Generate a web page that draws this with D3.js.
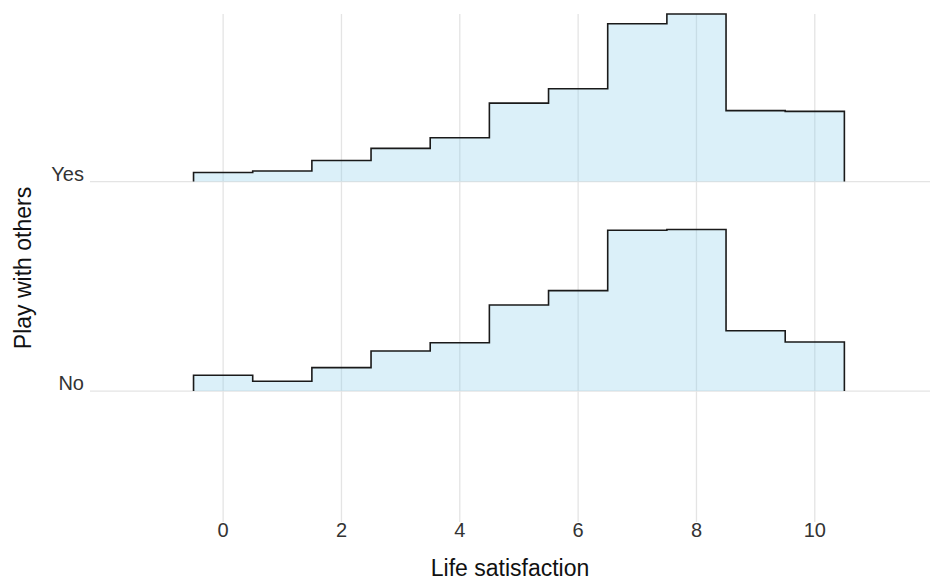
<!DOCTYPE html>
<html>
<head>
<meta charset="utf-8">
<script src="https://cdn.jsdelivr.net/npm/d3@7"></script>
<style>
  html, body { margin: 0; padding: 0; background: #fff; }
  svg { display: block; font-family: "Liberation Sans", Arial, Helvetica, sans-serif; }
</style>
</head>
<body>
<svg id="chart" width="930" height="582"></svg>
<script>
// Life satisfaction scores (bin centres) and share of respondents per score, in %
const scores = [0, 1, 2, 3, 4, 5, 6, 7, 8, 9, 10];
const groups = ["No", "Yes"];
const densityNo  = [2.1, 1.3, 3.1, 5.3, 6.4, 11.4, 13.3, 21.3, 21.4, 8.0, 6.5];
const densityYes = [1.2, 1.4, 2.8, 4.4, 5.8, 10.4, 12.3, 20.9, 22.2, 9.4, 9.3];
const xTicks = [0, 2, 4, 6, 8, 10];
const binWidth = 1;
const ridgeScale = 0.8;   // tallest bin reaches 0.8 of the row spacing

const series = [
  { group: "No",  values: densityNo },
  { group: "Yes", values: densityYes }
];

const panel = { left: 90, right: 942, top: 14, bottom: 522 };

const svg = d3.select("#chart");

const x = d3.scaleLinear().domain([-2.25, 12.15]).range([panel.left, panel.right]);
// continuous position of each ridge: No = 1, Yes = 2
const yPos = d3.scaleLinear().domain([0.375, 2.8]).range([panel.bottom, panel.top]);
const rowIndex = g => groups.indexOf(g) + 1;
const maxDensity = d3.max(series, s => d3.max(s.values));
const h = d3.scaleLinear().domain([0, maxDensity]).range([0, ridgeScale]);

const gridColor = "#e4e4e4";

// vertical grid lines
svg.append("g").selectAll("line").data(xTicks).join("line")
  .attr("x1", d => x(d)).attr("x2", d => x(d))
  .attr("y1", panel.top).attr("y2", panel.bottom)
  .attr("stroke", gridColor).attr("stroke-width", 1.3);

// horizontal grid lines at each ridge baseline
svg.append("g").selectAll("line").data(groups).join("line")
  .attr("x1", panel.left).attr("x2", panel.right)
  .attr("y1", d => yPos(rowIndex(d))).attr("y2", d => yPos(rowIndex(d)))
  .attr("stroke", gridColor).attr("stroke-width", 1.3);

// step outline for one histogram ridge
function stepPoints(s) {
  const base = rowIndex(s.group);
  const pts = [[scores[0] - binWidth / 2, base]];
  s.values.forEach((v, i) => {
    pts.push([scores[i] - binWidth / 2, base + h(v)]);
    pts.push([scores[i] + binWidth / 2, base + h(v)]);
  });
  pts.push([scores[scores.length - 1] + binWidth / 2, base]);
  return pts;
}

const line = d3.line().x(d => x(d[0])).y(d => yPos(d[1]));

// draw upper ridge first so lower ones sit on top
const ordered = series.slice().sort((a, b) => rowIndex(b.group) - rowIndex(a.group));
const ridges = svg.append("g").selectAll("g").data(ordered).join("g");
ridges.append("path")
  .attr("d", d => line(stepPoints(d)) + "Z")
  .attr("fill", "#87ceeb").attr("fill-opacity", 0.3).attr("stroke", "none");
ridges.append("path")
  .attr("d", d => line(stepPoints(d)))
  .attr("fill", "none").attr("stroke", "#1a1a1a").attr("stroke-width", 1.6)
  .attr("stroke-linejoin", "miter");

// x tick labels
svg.append("g").selectAll("text").data(xTicks).join("text")
  .attr("x", d => x(d)).attr("y", 537)
  .attr("text-anchor", "middle")
  .attr("font-size", 20).attr("fill", "#333")
  .text(d => d);

// y tick labels sit on their baselines
svg.append("g").selectAll("text").data(groups).join("text")
  .attr("x", 84).attr("y", d => yPos(rowIndex(d)))
  .attr("dy", "-0.05em")
  .attr("text-anchor", "end")
  .attr("font-size", 20).attr("fill", "#333")
  .text(d => d);

// axis titles
svg.append("text")
  .attr("x", 510).attr("y", 576)
  .attr("text-anchor", "middle").attr("font-size", 23).attr("fill", "#111")
  .text("Life satisfaction");

svg.append("text")
  .attr("transform", `translate(31,${(panel.top + panel.bottom) / 2}) rotate(-90)`)
  .attr("text-anchor", "middle").attr("font-size", 23).attr("fill", "#111")
  .text("Play with others");
</script>
</body>
</html>
